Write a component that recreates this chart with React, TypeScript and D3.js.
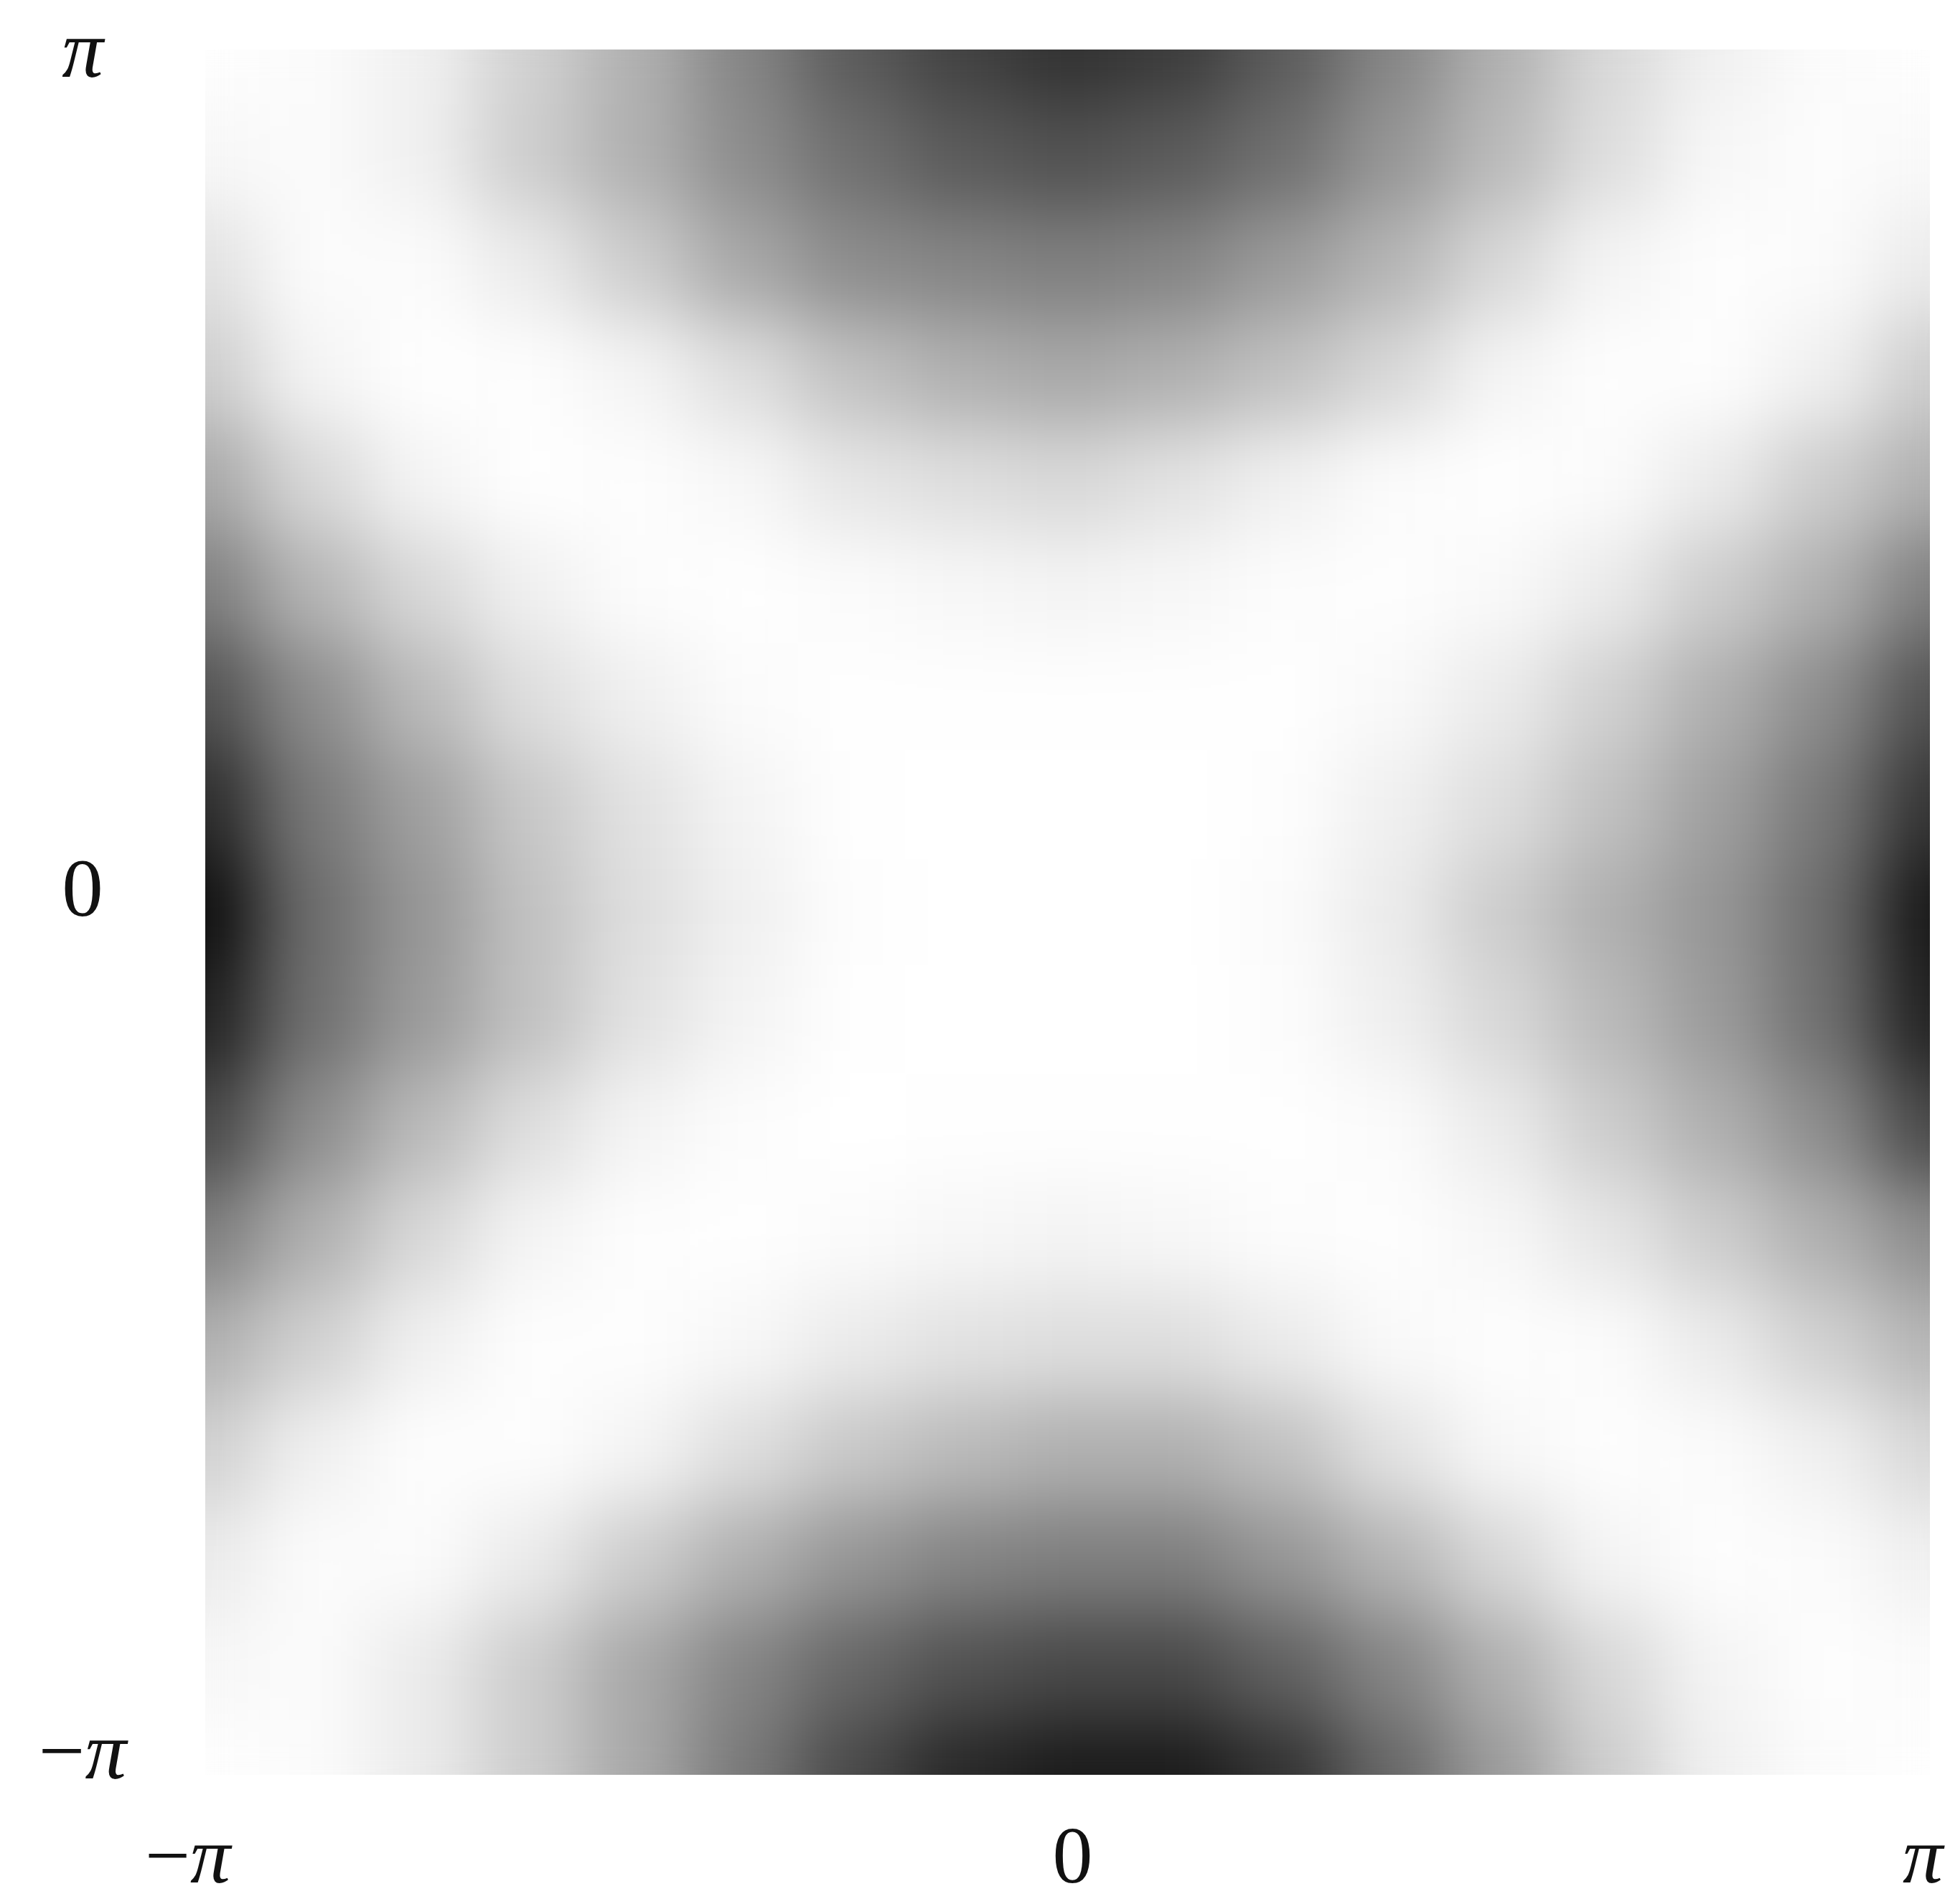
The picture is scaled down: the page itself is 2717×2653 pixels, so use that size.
import React, { useEffect, useRef } from "react";
import * as d3 from "d3";

const PI = Math.PI;

// grid positions in units of pi/8, from -pi to pi
const gridSteps = [-8, -7, -6, -5, -4, -3, -2, -1, 0, 1, 2, 3, 4, 5, 6, 7, 8];

// darkness (0 = white, 1 = black)
// rows go from y = pi (top) down to y = -pi, columns from x = -pi to x = pi
const darkness = [
  [0.02, 0.05, 0.12, 0.28, 0.42, 0.58, 0.72, 0.80, 0.85, 0.82, 0.72, 0.58, 0.42, 0.25, 0.12, 0.05, 0.02],
  [0.08, 0.05, 0.12, 0.30, 0.42, 0.55, 0.65, 0.72, 0.75, 0.72, 0.65, 0.52, 0.38, 0.22, 0.08, 0.04, 0.06],
  [0.20, 0.05, 0.05, 0.15, 0.30, 0.45, 0.55, 0.58, 0.60, 0.58, 0.50, 0.40, 0.25, 0.10, 0.03, 0.05, 0.15],
  [0.30, 0.10, 0.02, 0.03, 0.10, 0.22, 0.35, 0.42, 0.45, 0.42, 0.35, 0.25, 0.10, 0.03, 0.03, 0.12, 0.30],
  [0.45, 0.25, 0.10, 0.02, 0.03, 0.08, 0.18, 0.22, 0.25, 0.20, 0.12, 0.05, 0.02, 0.05, 0.15, 0.30, 0.42],
  [0.60, 0.40, 0.25, 0.12, 0.04, 0.02, 0.05, 0.08, 0.10, 0.08, 0.04, 0.03, 0.06, 0.15, 0.30, 0.42, 0.60],
  [0.75, 0.55, 0.38, 0.22, 0.12, 0.05, 0.02, 0.01, 0.02, 0.01, 0.02, 0.06, 0.15, 0.28, 0.42, 0.55, 0.75],
  [0.87, 0.62, 0.48, 0.32, 0.20, 0.10, 0.02, 0.00, 0.00, 0.00, 0.03, 0.12, 0.22, 0.35, 0.48, 0.62, 0.84],
  [0.96, 0.66, 0.52, 0.35, 0.22, 0.12, 0.03, 0.00, 0.00, 0.00, 0.05, 0.15, 0.30, 0.42, 0.52, 0.66, 0.93],
  [0.90, 0.65, 0.50, 0.35, 0.20, 0.10, 0.02, 0.00, 0.00, 0.00, 0.04, 0.13, 0.25, 0.38, 0.50, 0.65, 0.90],
  [0.78, 0.55, 0.38, 0.22, 0.10, 0.04, 0.00, 0.01, 0.02, 0.01, 0.01, 0.05, 0.15, 0.30, 0.42, 0.55, 0.78],
  [0.60, 0.42, 0.25, 0.10, 0.03, 0.02, 0.05, 0.08, 0.10, 0.08, 0.04, 0.03, 0.08, 0.18, 0.30, 0.42, 0.55],
  [0.42, 0.28, 0.12, 0.03, 0.03, 0.08, 0.15, 0.20, 0.22, 0.22, 0.15, 0.06, 0.03, 0.05, 0.15, 0.28, 0.40],
  [0.28, 0.12, 0.03, 0.03, 0.10, 0.22, 0.32, 0.38, 0.42, 0.42, 0.35, 0.20, 0.08, 0.03, 0.05, 0.12, 0.25],
  [0.15, 0.05, 0.05, 0.15, 0.30, 0.42, 0.52, 0.58, 0.60, 0.60, 0.52, 0.40, 0.25, 0.10, 0.03, 0.05, 0.12],
  [0.08, 0.05, 0.15, 0.30, 0.45, 0.58, 0.68, 0.75, 0.78, 0.78, 0.70, 0.58, 0.42, 0.25, 0.10, 0.03, 0.05],
  [0.02, 0.05, 0.15, 0.30, 0.45, 0.62, 0.78, 0.88, 0.92, 0.92, 0.85, 0.68, 0.50, 0.30, 0.12, 0.05, 0.02],
];

const tickValues = [-PI, 0, PI];
const tickLabels = ["\u2212\u03c0", "0", "\u03c0"];

const width = 2717;
const height = 2653;
const margin = { top: 69, right: 28, bottom: 180, left: 286 };

function Heatmap() {
  const ref = useRef<SVGSVGElement>(null);

  useEffect(() => {
    const svg = d3.select(ref.current);
    svg.selectAll("*").remove();

    const x0 = margin.left, x1 = width - margin.right;
    const y0 = margin.top, y1 = height - margin.bottom;

    const xScale = d3.scaleLinear().domain([-PI, PI]).range([x0, x1]);
    const yScale = d3.scaleLinear().domain([-PI, PI]).range([y1, y0]);
    // light tones come out paler in the print, so the ramp is bent a little
    const tone = d3.scalePow().exponent(1.35).domain([0, 1]).range([0, 1]).clamp(true);
    const grey = (v: number) => d3.interpolateRgb("#ffffff", "#000000")(tone(v));

    const step = PI / 8;
    const half = step / 2;

    const defs = svg.append("defs");
    defs.append("clipPath").attr("id", "plot-clip")
      .append("rect")
      .attr("x", x0).attr("y", y0)
      .attr("width", x1 - x0).attr("height", y1 - y0);

    // smooth the cells; alpha reset so edges keep their own tone
    const filter = defs.append("filter")
      .attr("id", "smooth")
      .attr("x", "-10%").attr("y", "-10%")
      .attr("width", "120%").attr("height", "120%")
      .attr("color-interpolation-filters", "sRGB");
    filter.append("feGaussianBlur").attr("stdDeviation", 48);
    filter.append("feComponentTransfer")
      .append("feFuncA").attr("type", "linear").attr("slope", 0).attr("intercept", 1);

    const cells: { x: number; y: number; v: number }[] = [];
    darkness.forEach((row, j) => {
      row.forEach((v, i) => {
        cells.push({ x: gridSteps[i] * step, y: gridSteps[16 - j] * step, v });
      });
    });

    svg.append("g")
      .attr("clip-path", "url(#plot-clip)")
      .append("g")
      .attr("filter", "url(#smooth)")
      .selectAll("rect")
      .data(cells)
      .join("rect")
      .attr("x", d => xScale(d.x - half))
      .attr("y", d => yScale(d.y + half))
      .attr("width", d => xScale(d.x + half) - xScale(d.x - half) + 1)
      .attr("height", d => yScale(d.y - half) - yScale(d.y + half) + 1)
      .attr("fill", d => grey(d.v));

    const font = "'Liberation Serif', 'DejaVu Serif', serif";

    // y labels, centred left of the plot
    svg.append("g")
      .selectAll("text")
      .data(tickValues)
      .join("text")
      .attr("x", x0 - 171)
      .attr("y", d => Math.max(yScale(d) + 5, y0 + 38))
      .attr("text-anchor", "middle")
      .attr("font-family", font)
      .attr("font-size", 115)
      .attr("fill", "#111")
      .each(function (d, i) {
        appendLabel(d3.select(this), tickLabels[i]);
      });

    // x labels under the plot
    svg.append("g")
      .selectAll("text")
      .data(tickValues)
      .join("text")
      .attr("x", d => Math.min(xScale(d) + 35, width - 10))
      .attr("y", y1 + 150)
      .attr("text-anchor", "end")
      .attr("font-family", font)
      .attr("font-size", 112)
      .attr("fill", "#111")
      .each(function (d, i) {
        appendLabel(d3.select(this), tickLabels[i]);
      });
  }, []);

  return (
    <svg
      ref={ref}
      width={width}
      height={height}
      style={{ position: "absolute", left: 0, top: 0, background: "#fff" }}
    />
  );
}

// pi is set in italic like a math symbol
function appendLabel(sel: any, label: string) {
  const parts = label.split(/(\u03c0)/).filter(p => p.length > 0);
  parts.forEach(p => {
    sel.append("tspan")
      .attr("font-style", p === "\u03c0" ? "italic" : "normal")
      .text(p);
  });
}

export default function App() {
  return <Heatmap />;
}
